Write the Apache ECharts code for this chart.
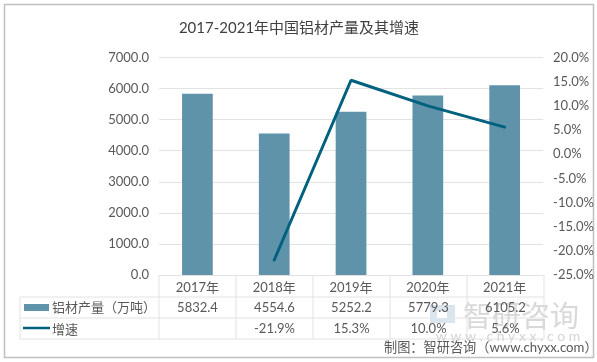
<!DOCTYPE html>
<html><head><meta charset="utf-8">
<style>html,body{margin:0;padding:0;background:#fff}#c{width:597px;height:362px}</style>
<script src="https://cdn.jsdelivr.net/npm/echarts@6/dist/echarts.min.js"></script>
</head><body><div id="c"></div>
<script>
const categories = ['2017年','2018年','2019年','2020年','2021年'];
const output = [5832.4,4554.6,5252.2,5779.3,6105.2];
const growth = [null,-21.9,15.3,10.0,5.6];
const outputLabels = ['5832.4','4554.6','5252.2','5779.3','6105.2'];
const growthLabels = ['','-21.9%','15.3%','10.0%','5.6%'];
const seriesNames = ['铝材产量（万吨）','增速'];
const titleText = '2017-2021年中国铝材产量及其增速';
const creditText = '制图：智研咨询（www.chyxx.com）';

const FONT = "Lato, 'Noto Sans CJK SC', sans-serif";
const CJK = "'Noto Sans CJK SC', sans-serif";
const TXT = '#595959', GRID = '#e2e2e2', BAR = '#5f93aa', LINE = '#00617f';
const L = 159, R = 544, T = 57.5, B = 275, rows = [275, 297, 318, 339], TL = 20;
const colW = (R - L) / categories.length;

const g = [];
g.push({type:'rect',silent:true,shape:{x:4.5,y:4.5,width:589,height:353},style:{fill:'none',stroke:'#bfbfbf',lineWidth:1.5}});
const seg=(x1,y1,x2,y2)=>g.push({type:'line',silent:true,shape:{x1,y1,x2,y2},style:{stroke:GRID,lineWidth:1}});
seg(TL,rows[1],R,rows[1]); seg(TL,rows[2],R,rows[2]); seg(TL,rows[3],R,rows[3]);
seg(TL,rows[1],TL,rows[3]);
for(let i=0;i<=categories.length;i++) seg(L+i*colW,rows[0],L+i*colW,rows[3]);
const txt=(x,y,text,fs,fill,align,ff,z)=>g.push({type:'text',silent:true,z:z||5,x,y,style:{text,font:fs+'px '+(ff||FONT),fill:fill||TXT,align:align||'center',verticalAlign:'middle'}});
// watermark
g.push({type:'rect',silent:true,z:1,shape:{x:430,y:305,width:25,height:18},style:{fill:'#dbe5ee'}});
g.push({type:'rect',silent:true,z:1,shape:{x:437,y:311,width:10,height:7},style:{fill:'#fff'}});
txt(521,316,'智研咨询',29,'#d9d9d9','center',CJK,1);
txt(508,336,'w w w . c h y x x . c o m',14,'#d4d4d4','center',FONT,1);
// rows
categories.forEach((c,i)=>{
  const x=L+(i+.5)*colW;
  txt(x,rows[1]+10.5+0.5,outputLabels[i],13);
  txt(x,rows[2]+10.5+0.5,growthLabels[i],13);
});
g.push({type:'rect',silent:true,shape:{x:24,y:304,width:25,height:7},style:{fill:BAR}});
g.push({type:'line',silent:true,shape:{x1:23,y1:328,x2:50,y2:328},style:{stroke:LINE,lineWidth:2.5}});
txt(52,307.5,seriesNames[0],13,TXT,'left',CJK);
txt(52,329,seriesNames[1],13,TXT,'left',CJK);
txt(384,348,creditText,13.2,TXT,'left',FONT);

const chart = echarts.init(document.getElementById('c'),null,{renderer:'canvas'});
chart.setOption({
  animation:false,
  backgroundColor:'#fff',
  textStyle:{fontFamily:FONT},
  title:{text:titleText,left:294,top:16,textAlign:'center',textStyle:{fontFamily:FONT,fontSize:15,fontWeight:'normal',color:'#404040'}},
  grid:{left:L,right:597-R,top:T,bottom:362-B,containLabel:false},
  xAxis:{type:'category',data:categories,axisTick:{show:false},
    axisLine:{lineStyle:{color:GRID}},
    axisLabel:{color:TXT,fontSize:13,margin:6,fontFamily:FONT},splitLine:{show:false}},
  yAxis:[
    {type:'value',min:0,max:7000,interval:1000,axisLine:{show:false},axisTick:{show:false},
     axisLabel:{color:TXT,fontSize:13,margin:10,fontFamily:FONT,formatter:v=>v.toFixed(1)},
     splitLine:{lineStyle:{color:GRID}}},
    {type:'value',min:-25,max:20,interval:5,position:'right',axisLine:{show:false},axisTick:{show:false},
     axisLabel:{color:TXT,fontSize:13,margin:10,fontFamily:FONT,formatter:v=>v.toFixed(1)+'%'},
     splitLine:{show:false}}
  ],
  series:[
    {name:seriesNames[0],type:'bar',data:output,barWidth:'40%',itemStyle:{color:BAR},z:2},
    {name:seriesNames[1],type:'line',yAxisIndex:1,data:growth,showSymbol:false,symbol:'none',connectNulls:false,
     lineStyle:{color:LINE,width:3,cap:'round'},z:3}
  ],
  graphic:{elements:g}
});
</script></body></html>
